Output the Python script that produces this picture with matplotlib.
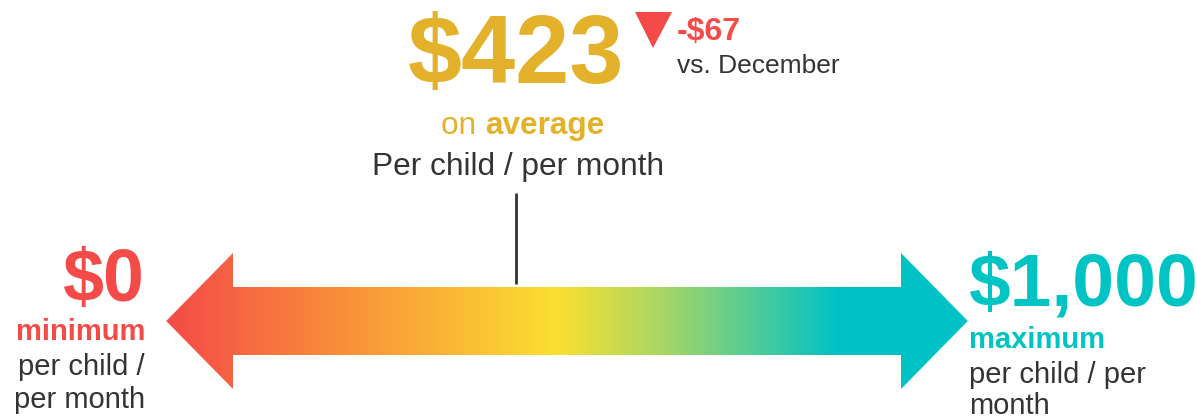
import matplotlib
matplotlib.use("Agg")
import matplotlib.pyplot as plt
import numpy as np
from matplotlib.colors import LinearSegmentedColormap
from matplotlib.patches import Polygon

# ---- data ----
min_value = 0
max_value = 1000
avg_value = 423
change_value = -67
min_label = "$0"
max_label = "$1,000"
avg_label = "$423"
change_label = "-$67"
compare_label = "vs. December"
unit_label = "Per child / per month"

# ---- styles ----
RED = "#F44A48"
GOLD = "#E3B22A"
TEAL = "#00C3C4"
DARK = "#333333"
FONT = "Liberation Sans"

W, H = 1197, 419
fig = plt.figure(figsize=(W / 100, H / 100), dpi=100)
ax = fig.add_axes([0, 0, 1, 1])
ax.axis("off")

# value scale: min -> 233 px, max -> 901 px
px_min, px_max = 233, 901
ppu = (px_max - px_min) / (max_value - min_value)
ax.set_xlim(min_value - px_min / ppu, min_value + (W - px_min) / ppu)
ax.set_ylim(H, 0)

def px(p):
    """pixel x -> value units"""
    return min_value + (p - px_min) / ppu

span = max_value - min_value
head = 0.1 * span
yc, shaft_h, head_h = 321, 34, 68
left_tip = min_value - head
right_tip = max_value + head
arrow = Polygon([
    (left_tip, yc), (min_value, yc - head_h), (min_value, yc - shaft_h),
    (max_value, yc - shaft_h), (max_value, yc - head_h), (right_tip, yc),
    (max_value, yc + head_h), (max_value, yc + shaft_h),
    (min_value, yc + shaft_h), (min_value, yc + head_h)], closed=True,
    facecolor="none", edgecolor="none")
ax.add_patch(arrow)

cmap = LinearSegmentedColormap.from_list("g", [
    (0.0, "#F44A48"), (0.26, "#F98F3A"), (0.58, "#FBE030"),
    (0.74, "#A6D667"), (1.0, "#00C2C6")])
g_start, g_end = left_tip, px(840)
xs = np.linspace(left_tip, right_tip, 800)
vals = np.clip((xs - g_start) / (g_end - g_start), 0, 1)
im = ax.imshow(vals[np.newaxis, :], cmap=cmap, aspect="auto",
               extent=(left_tip, right_tip, yc + head_h, yc - head_h),
               interpolation="bilinear", vmin=0, vmax=1)
im.set_clip_path(arrow)

# marker line at average
ax.plot([avg_value, avg_value], [193, 284], color=DARK, lw=2, solid_capstyle="butt")

# ---- top text ----
ax.text(avg_value, 83, avg_label, color=GOLD, fontsize=70, fontweight="bold",
        family=FONT, ha="center", va="baseline")
tri_cx = px(653)
tri = Polygon([(px(635), 12), (px(672), 12), (tri_cx, 48)], closed=True,
              facecolor=RED, edgecolor="none")
ax.add_patch(tri)
ax.text(px(677), 40, change_label, color=RED, fontsize=23, fontweight="bold",
        family=FONT, ha="left", va="baseline")
ax.text(px(677), 73, compare_label, color=DARK, fontsize=19,
        family=FONT, ha="left", va="baseline")

t1 = ax.text(px(441), 134, "on ", color=GOLD, fontsize=22.7, family=FONT,
             ha="left", va="baseline")
fig.canvas.draw()
bb = t1.get_window_extent()
x_after = ax.transData.inverted().transform((bb.x1, 0))[0]
ax.text(x_after, 134, "average", color=GOLD, fontsize=22.7, fontweight="bold",
        family=FONT, ha="left", va="baseline")
ax.text(px(518), 175, unit_label, color=DARK, fontsize=22.8, family=FONT,
        ha="center", va="baseline")

# ---- left text ----
ax.text(px(145), 301, min_label, color=RED, fontsize=53, fontweight="bold",
        family=FONT, ha="right", va="baseline")
ax.text(px(145), 340, "minimum", color=RED, fontsize=21, fontweight="bold",
        family=FONT, ha="right", va="baseline")
ax.text(px(145), 375, "per child /", color=DARK, fontsize=21, family=FONT,
        ha="right", va="baseline")
ax.text(px(145), 408, "per month", color=DARK, fontsize=21, family=FONT,
        ha="right", va="baseline")

# ---- right text ----
ax.text(px(968), 305, max_label, color=TEAL, fontsize=54, fontweight="bold",
        family=FONT, ha="left", va="baseline")
ax.text(px(969), 348, "maximum", color=TEAL, fontsize=21, fontweight="bold",
        family=FONT, ha="left", va="baseline")
ax.text(px(969), 383, "per child / per", color=DARK, fontsize=21, family=FONT,
        ha="left", va="baseline")
ax.text(px(969), 414, "month", color=DARK, fontsize=21, family=FONT,
        ha="left", va="baseline")

fig.savefig("out.png", dpi=100)
